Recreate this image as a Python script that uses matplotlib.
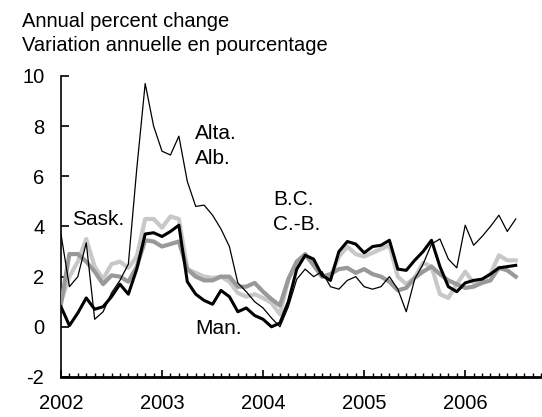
import matplotlib
matplotlib.use("Agg")
import matplotlib.pyplot as plt
from matplotlib.ticker import MultipleLocator
import numpy as np

plt.rcParams['font.family'] = ['Liberation Sans', 'DejaVu Sans']

# monthly, Jan 2002 - Jul 2006
start_year = 2002
alta = [3.7, 1.6, 2.0, 3.35, 0.3, 0.6, 1.35, 1.85, 2.5, 6.3,
        9.7, 8.0, 7.0, 6.85, 7.6, 5.8, 4.8, 4.85, 4.45, 3.9,
        3.2, 1.75, 1.4, 1.0, 0.75, 0.35, 0.0, 0.8, 1.9, 2.3,
        2.0, 2.2, 1.6, 1.5, 1.85, 2.0, 1.6, 1.5, 1.6, 2.0,
        1.5, 0.6, 1.9, 2.5, 3.3, 3.5, 2.7, 2.35, 4.05, 3.25,
        3.6, 4.0, 4.45, 3.8, 4.3]
man = [0.8, 0.05, 0.55, 1.15, 0.7, 0.8, 1.2, 1.7, 1.3, 2.3,
       3.7, 3.75, 3.6, 3.8, 4.05, 1.8, 1.3, 1.05, 0.9, 1.45,
       1.2, 0.6, 0.75, 0.45, 0.3, 0.0, 0.15, 1.0, 2.3, 2.85,
       2.7, 2.05, 1.85, 3.0, 3.4, 3.3, 2.95, 3.2, 3.25, 3.45,
       2.3, 2.25, 2.65, 3.0, 3.45, 2.4, 1.6, 1.4, 1.75, 1.85,
       1.9, 2.1, 2.35, 2.4, 2.45]
bc = [1.0, 2.0, 2.6, 3.5, 2.4, 1.9, 2.5, 2.6, 2.35, 2.8,
      4.3, 4.3, 3.95, 4.4, 4.3, 2.3, 2.15, 2.0, 1.95, 2.0,
      1.8, 1.35, 1.2, 1.3, 1.15, 0.95, 0.5, 1.9, 2.6, 2.85,
      2.5, 2.0, 2.0, 2.8, 3.2, 2.9, 2.8, 2.95, 3.1, 3.25,
      2.0, 1.7, 1.95, 2.55, 2.4, 1.3, 1.15, 1.7, 2.2, 1.75,
      1.85, 2.1, 2.85, 2.65, 2.65]
sask = [0.9, 2.9, 2.9, 2.6, 2.2, 1.7, 2.05, 2.0, 1.8, 2.4,
        3.45, 3.4, 3.2, 3.3, 3.4, 2.3, 2.0, 1.85, 1.85, 2.0,
        2.0, 1.6, 1.6, 1.75, 1.4, 1.1, 0.85, 1.9, 2.6, 2.9,
        2.45, 2.0, 2.1, 2.3, 2.35, 2.15, 2.3, 2.1, 2.0, 1.8,
        1.45, 1.55, 1.95, 2.2, 2.4, 2.1, 1.85, 1.7, 1.55, 1.6,
        1.75, 1.85, 2.35, 2.25, 2.0]
year_labels = ['2002', '2003', '2004', '2005', '2006']

t = start_year + np.arange(len(alta)) / 12.0

fig = plt.figure(figsize=(5.42, 4.17), dpi=100)
ax = fig.add_axes([0.1125, 0.096, 0.8875, 0.7218])

ax.plot(t, bc, color='#c8c8c8', lw=3.0, solid_joinstyle='round', zorder=2)
ax.plot(t, sask, color='#999999', lw=3.0, solid_joinstyle='round', zorder=3)
ax.plot(t, man, color='black', lw=2.2, solid_joinstyle='round', zorder=4)
ax.plot(t, alta, color='black', lw=0.9, zorder=5)

ax.set_xlim(2002, 2006.76)
ax.set_ylim(-2, 10)

for s in ['top', 'right']:
    ax.spines[s].set_visible(False)
ax.spines['left'].set_linewidth(1.2)
ax.spines['bottom'].set_linewidth(2.0)

ax.set_yticks(range(-2, 11, 2))
ax.set_yticklabels([str(v) for v in range(-2, 11, 2)])
ax.set_xticks(range(2002, 2007))
ax.set_xticklabels(year_labels)
ax.xaxis.set_minor_locator(MultipleLocator(1 / 12.0))
ax.tick_params(axis='y', direction='in', length=6, width=1.2, pad=12, labelsize=14.5)
ax.tick_params(axis='x', which='major', direction='in', length=5, width=1.2, pad=12, labelsize=14.5)
ax.tick_params(axis='x', which='minor', direction='in', length=3, width=1.0)

# series labels
lab = dict(fontsize=15, ha='left', va='center')
ax.text(2002.109, 4.26, 'Sask.', **lab)
ax.text(2003.327, 7.71, 'Alta.', **lab)
ax.text(2003.327, 6.71, 'Alb.', **lab)
ax.text(2004.099, 5.08, 'B.C.', **lab)
ax.text(2004.099, 4.08, 'C.-B.', **lab)
ax.text(2003.327, -0.06, 'Man.', **lab)

fig.text(0.0406, 0.948, 'Annual percent change', fontsize=14.5, ha='left', va='center')
fig.text(0.0406, 0.890, 'Variation annuelle en pourcentage', fontsize=14.5, ha='left', va='center')

fig.savefig('out.png', dpi=100)
